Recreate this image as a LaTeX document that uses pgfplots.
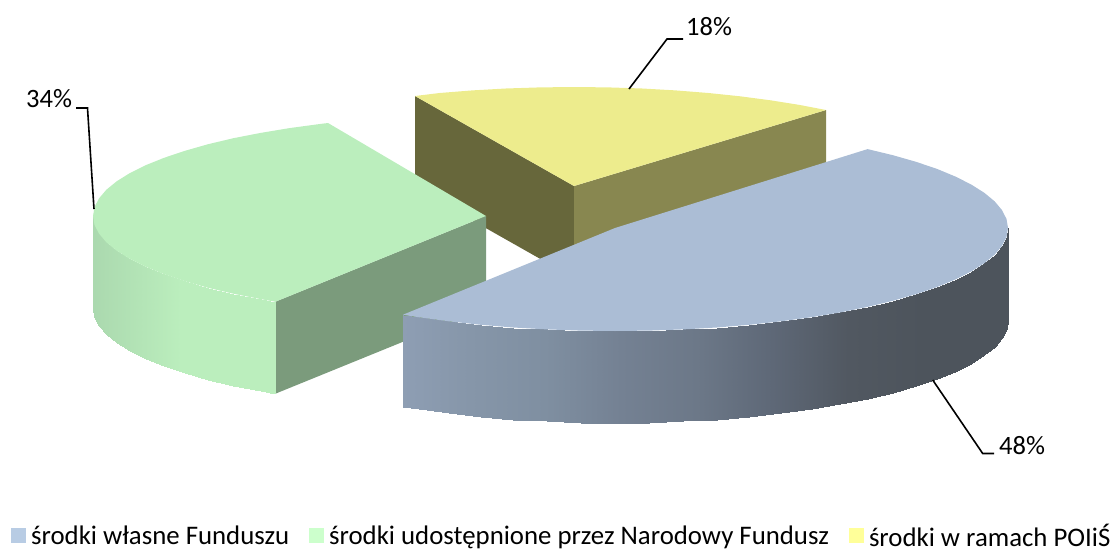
\documentclass[border=0pt]{standalone}
\usepackage{fontspec}
\setmainfont{Carlito}
\usepackage{pgfplots}
\pgfplotsset{compat=1.18}
\definecolor{blueTop}{HTML}{ABBDD5}
\definecolor{greenTop}{HTML}{BBEEBD}
\definecolor{greenCut}{HTML}{7B9B7C}
\definecolor{yellowTop}{HTML}{EDEC8D}
\definecolor{yellowCutL}{HTML}{67673B}
\definecolor{yellowCutR}{HTML}{888750}
\definecolor{legBlue}{HTML}{B8CCE4}
\definecolor{legGreen}{HTML}{CCFFCC}
\definecolor{legYellow}{HTML}{FFFF99}
\pgfplotsset{
  % rim shades, light end first (tuned against the rendered output)
  colormap={blueRim}{
    rgb255=(162,179,203); rgb255=(162,179,203); rgb255=(158,175,199); rgb255=(153,170,194);
    rgb255=(143,159,181); rgb255=(134,150,169); rgb255=(127,143,161); rgb255=(116,129,147);
    rgb255=(108,120,136); rgb255=(94,104,119); rgb255=(81,88,97); rgb255=(77,84,92); rgb255=(77,84,92)},
  colormap={greenRim}{
    rgb255=(170,216,174); rgb255=(187,238,189); rgb255=(187,238,189); rgb255=(187,238,189);
    rgb255=(187,238,189); rgb255=(187,238,189); rgb255=(187,238,189); rgb255=(187,238,189);
    rgb255=(178,226,180); rgb255=(176,222,177); rgb255=(176,222,177)},
}
\newcommand{\sw}[1]{\path[draw=none,fill=none] (0pt,0pt) rectangle (18pt,1pt); \fill[#1,draw=none] (0pt,-6.5pt) rectangle (15pt,8.5pt);}
\begin{document}
\begin{tikzpicture}
\useasboundingbox (0,0) rectangle (1116pt,549pt);
\begin{axis}[
    at={(0,0)}, anchor=south west,
    scale only axis,
    width=1116pt,
    height=549pt,
    xmin=0, xmax=1116,
    ymin=0, ymax=549,
    y dir=reverse,
    hide axis,
    clip=false,
    legend columns=3,
    legend cell align=left,
    legend style={
        draw=none, fill=none,
        at={(axis cs:11,536)}, anchor=west,
        font=\fontsize{26.8}{30}\selectfont,
        inner sep=0pt,
        /tikz/every even column/.append style={column sep=18pt},
    },
]
% yellow slice (18%)
\addplot[fill=yellowCutL, draw=none, forget plot] coordinates {(415,96) (574,186) (574,278) (415,188)};
\addplot[fill=yellowCutR, draw=none, forget plot] coordinates {(574,186) (826,110) (826,202) (574,278)};
\addplot[fill=yellowTop, draw=none, forget plot] coordinates {
    (574,186) (415,96) (439.6,93) (472.3,90.4) (505.8,88.5) (539.7,87.4) (574,87)
    (608.3,87.4) (642.2,88.5) (675.7,90.4) (708.4,93) (740.1,96.3) (770.5,100.3)
    (799.4,104.9) (826,110)
};
% green slice (34%)
\addplot[fill=greenCut, draw=none, forget plot] coordinates {(486,216) (275.4,301.7) (275.4,393.7) (486,308)};
\addplot[surf, shader=interp, colormap name=greenRim, point meta=x,
    point meta min=90, point meta max=290, mesh/rows=2, forget plot] table {
x y
275.4 301.7
260.6 299.1
233.4 293.7
208.1 287.8
185.0 281.2
164.1 274.2
145.7 266.8
129.8 258.9
116.7 250.7
106.4 242.3
99.0 233.6
94.5 224.9
93.0 216.0

275.4 393.7
260.6 391.1
233.4 385.7
208.1 379.8
185.0 373.2
164.1 366.2
145.7 358.8
129.8 350.9
116.7 342.7
106.4 334.3
99.0 325.6
94.5 316.9
93.0 308.0
};
\addplot[fill=greenTop, draw=none, forget plot] coordinates {
    (486,216) (275.4,301.7) (260.6,299.1) (233.4,293.7) (208.1,287.8) (185,281.2)
    (164.1,274.2) (145.7,266.8) (129.8,258.9) (116.7,250.7) (106.4,242.3) (99,233.6)
    (94.5,224.9) (93,216) (94.5,207.1) (99,198.4) (106.4,189.7) (116.7,181.3)
    (129.8,173.1) (145.7,165.2) (164.1,157.8) (185,150.8) (208.1,144.2) (233.4,138.2)
    (260.6,132.9) (289.5,128.1) (319.9,124) (328,123)
};
% blue slice (48%)
\addplot[surf, shader=interp, colormap name=blueRim, point meta=x,
    point meta min=400, point meta max=1000, mesh/rows=2, forget plot] table {
x y
1008.0 228.0
1006.5 237.0
1002.0 245.9
994.6 254.7
984.3 263.2
971.2 271.5
955.3 279.5
937.0 287.1
916.0 294.2
892.9 300.8
867.6 306.9
840.4 312.4
811.5 317.2
781.1 321.3
749.4 324.8
716.7 327.5
683.2 329.4
649.3 330.6
615.0 331.0
580.7 330.6
546.8 329.4
513.3 327.5
480.6 324.8
448.9 321.3
418.5 317.2
403.0 314.7

1008.0 320.0
1006.5 329.0
1002.0 337.9
994.6 346.7
984.3 355.2
971.2 363.5
955.3 371.5
937.0 379.1
916.0 386.2
892.9 392.8
867.6 398.9
840.4 404.4
811.5 409.2
781.1 413.3
749.4 416.8
716.7 419.5
683.2 421.4
649.3 422.6
615.0 423.0
580.7 422.6
546.8 421.4
513.3 419.5
480.6 416.8
448.9 413.3
418.5 409.2
403.0 406.7
};
\addplot[fill=blueTop, draw=none, forget plot] coordinates {
    (615,228) (867.6,149.1) (892.9,155.2) (916,161.8) (937,168.9) (955.3,176.5)
    (971.2,184.5) (984.3,192.8) (994.6,201.3) (1002,210.1) (1006.5,219) (1008,228)
    (1006.5,237) (1002,245.9) (994.6,254.7) (984.3,263.2) (971.2,271.5) (955.3,279.5)
    (937,287.1) (916,294.2) (892.9,300.8) (867.6,306.9) (840.4,312.4) (811.5,317.2)
    (781.1,321.3) (749.4,324.8) (716.7,327.5) (683.2,329.4) (649.3,330.6) (615,331)
    (580.7,330.6) (546.8,329.4) (513.3,327.5) (480.6,324.8) (448.9,321.3) (418.5,317.2)
    (403,314.7)
};
% leader lines
\addplot[black, line width=1.6pt, forget plot] coordinates {(629,89) (667,39) (683,39)};
\addplot[black, line width=1.6pt, forget plot] coordinates {(94,209) (87.5,108) (76,108)};
\addplot[black, line width=1.6pt, forget plot] coordinates {(932.7,380) (982.7,453.5) (994,453.5)};
% data labels
\node[anchor=base west, inner sep=0pt, font=\fontsize{26.5}{30}\selectfont] at (axis cs:686,35) {18\%};
\node[anchor=base west, inner sep=0pt, font=\fontsize{26.5}{30}\selectfont] at (axis cs:26,107) {34\%};
\node[anchor=base west, inner sep=0pt, font=\fontsize{26.5}{30}\selectfont] at (axis cs:999,454) {48\%};
% legend
\addlegendimage{legend image code/.code={\sw{legBlue}}}
\addlegendentry{środki własne Funduszu}
\addlegendimage{legend image code/.code={\sw{legGreen}}}
\addlegendentry{środki udostępnione przez Narodowy Fundusz}
\addlegendimage{legend image code/.code={\sw{legYellow}}}
\addlegendentry{środki w ramach POIiŚ}
\end{axis}
\end{tikzpicture}
\end{document}
